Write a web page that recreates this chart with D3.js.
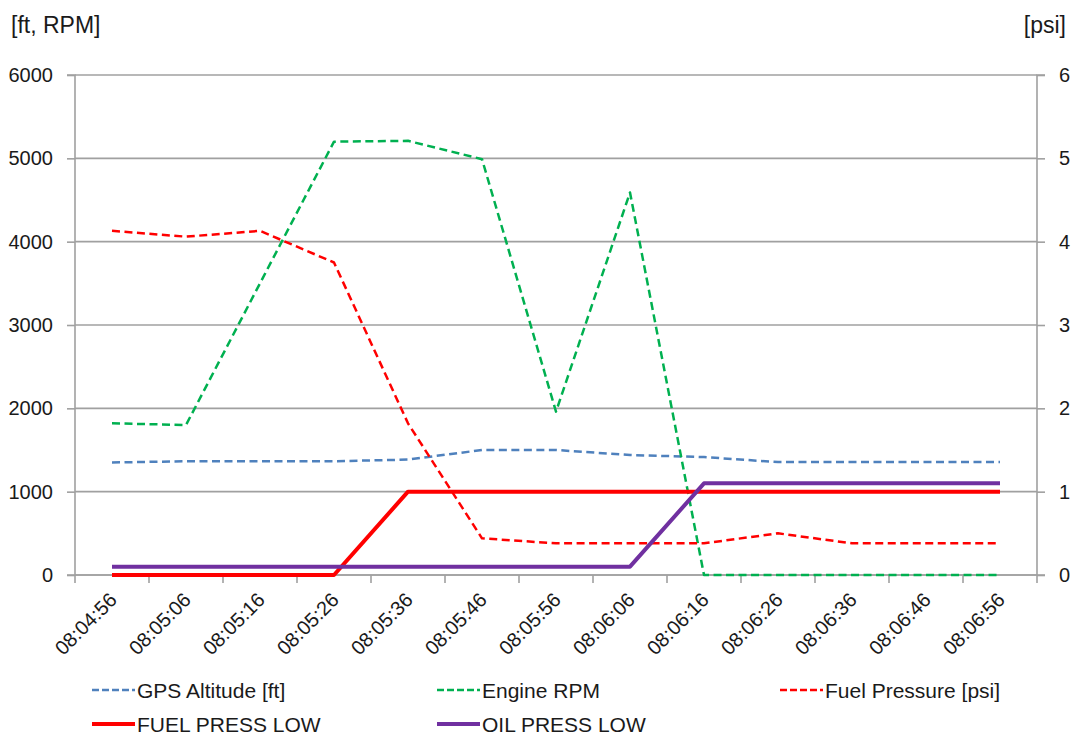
<!DOCTYPE html>
<html>
<head>
<meta charset="utf-8">
<script src="https://cdn.jsdelivr.net/npm/d3@7"></script>
<style>
  html, body { margin: 0; padding: 0; background: #fff; }
  svg text { font-family: "Liberation Sans", Arial, sans-serif; fill: #1a1a1a; }
</style>
</head>
<body>
<svg id="chart" width="1078" height="736"></svg>
<script>
const categories = ["08:04:56","08:05:06","08:05:16","08:05:26","08:05:36","08:05:46","08:05:56","08:06:06","08:06:16","08:06:26","08:06:36","08:06:46","08:06:56"];
const gpsAltitude = [1350,1365,1365,1365,1385,1500,1500,1440,1415,1355,1355,1355,1355];
const engineRPM   = [1820,1800,3500,5200,5210,4990,1960,4590,0,0,0,0,0];
const fuelPressure = [4.13,4.06,4.13,3.75,1.82,0.44,0.38,0.38,0.38,0.50,0.38,0.38,0.38];
const fuelPressLow = [0,0,0,0,1,1,1,1,1,1,1,1,1];
const oilPressLow  = [0.1,0.1,0.1,0.1,0.1,0.1,0.1,0.1,1.1,1.1,1.1,1.1,1.1];
const leftTicks = [0,1000,2000,3000,4000,5000,6000];
const rightTicks = [0,1,2,3,4,5,6];

const svg = d3.select("#chart");
const L = 75, R = 1037, T = 75, B = 575;

const x = d3.scaleBand().domain(categories).range([L, R]).padding(0);
const yL = d3.scaleLinear().domain([0, 6000]).range([B, T]);
const yR = d3.scaleLinear().domain([0, 6]).range([B, T]);
const cx = d => x(d) + x.bandwidth() / 2;

const gridColor = "#a0a0a0";

// gridlines
svg.append("g").selectAll("line").data(leftTicks).join("line")
  .attr("x1", L).attr("x2", R)
  .attr("y1", d => yL(d)).attr("y2", d => yL(d))
  .attr("stroke", gridColor).attr("stroke-width", 1.6);

// left axis
const gLeft = svg.append("g").attr("transform", `translate(${L},0)`)
  .call(d3.axisLeft(yL).tickValues(leftTicks).tickSize(8).tickPadding(14).tickFormat(d3.format("d")));
// right axis
const gRight = svg.append("g").attr("transform", `translate(${R},0)`)
  .call(d3.axisRight(yR).tickValues(rightTicks).tickSize(8).tickPadding(14).tickFormat(d3.format("d")));
[gLeft, gRight].forEach(g => {
  g.select(".domain").attr("stroke", gridColor).attr("stroke-width", 1.6);
  g.selectAll(".tick line").attr("stroke", gridColor).attr("stroke-width", 1.6);
  g.selectAll(".tick text").attr("font-size", 20).attr("fill", "#1a1a1a")
    .style("font-family", "'Liberation Sans', Arial, sans-serif");
});
gLeft.select(".domain").attr("d", `M-8,${B}H0V${T}H-8`);
gRight.select(".domain").attr("d", `M8,${B}H0V${T}H8`);

// bottom axis: ticks at band boundaries
const gBottom = svg.append("g");
gBottom.append("line").attr("x1", L).attr("x2", R).attr("y1", B).attr("y2", B)
  .attr("stroke", gridColor).attr("stroke-width", 1.6);
const bounds = categories.map(c => x(c)).concat([R]);
gBottom.selectAll("line.tk").data(bounds).join("line").attr("class", "tk")
  .attr("x1", d => d).attr("x2", d => d).attr("y1", B).attr("y2", B + 8)
  .attr("stroke", gridColor).attr("stroke-width", 1.6);
gBottom.selectAll("text").data(categories).join("text")
  .attr("transform", d => `translate(${cx(d) - 4},${591}) rotate(-45)`)
  .attr("text-anchor", "end")
  .attr("dy", "0.72em")
  .attr("font-size", 20)
  .text(d => d);

// axis titles
svg.append("text").attr("x", 11).attr("y", 33).attr("font-size", 23).text("[ft, RPM]");
svg.append("text").attr("x", 1066).attr("y", 33).attr("font-size", 23).attr("text-anchor", "end").text("[psi]");

// series
const series = [
  { name: "GPS Altitude [ft]", values: gpsAltitude, y: yL, color: "#4f81bd", width: 2.5, dash: "8,4.5" },
  { name: "Engine RPM", values: engineRPM, y: yL, color: "#00b050", width: 2.5, dash: "8,4.5" },
  { name: "Fuel Pressure [psi]", values: fuelPressure, y: yR, color: "#ff0000", width: 2.5, dash: "8,4.5" },
  { name: "FUEL PRESS LOW", values: fuelPressLow, y: yR, color: "#ff0000", width: 4, dash: null },
  { name: "OIL PRESS LOW", values: oilPressLow, y: yR, color: "#7030a0", width: 4, dash: null }
];

const gLines = svg.append("g");
series.forEach(s => {
  const line = d3.line().x((d, i) => cx(categories[i])).y(d => s.y(d));
  gLines.append("path").datum(s.values)
    .attr("d", line)
    .attr("fill", "none")
    .attr("stroke", s.color)
    .attr("stroke-width", s.width)
    .attr("stroke-linejoin", "round")
    .attr("stroke-dasharray", s.dash);
});

// legend
const legendPos = [
  { x: 92, y: 690 }, { x: 437, y: 690 }, { x: 780, y: 690 },
  { x: 92, y: 724 }, { x: 437, y: 724 }
];
const gLeg = svg.append("g");
series.forEach((s, i) => {
  const p = legendPos[i];
  gLeg.append("line").attr("x1", p.x).attr("x2", p.x + 43).attr("y1", p.y).attr("y2", p.y)
    .attr("stroke", s.color).attr("stroke-width", s.dash ? 2.5 : 4)
    .attr("stroke-dasharray", s.dash ? "7,3" : null);
  gLeg.append("text").attr("x", p.x + 45).attr("y", p.y).attr("dy", "0.36em")
    .attr("font-size", 21).text(s.name);
});
</script>
</body>
</html>
